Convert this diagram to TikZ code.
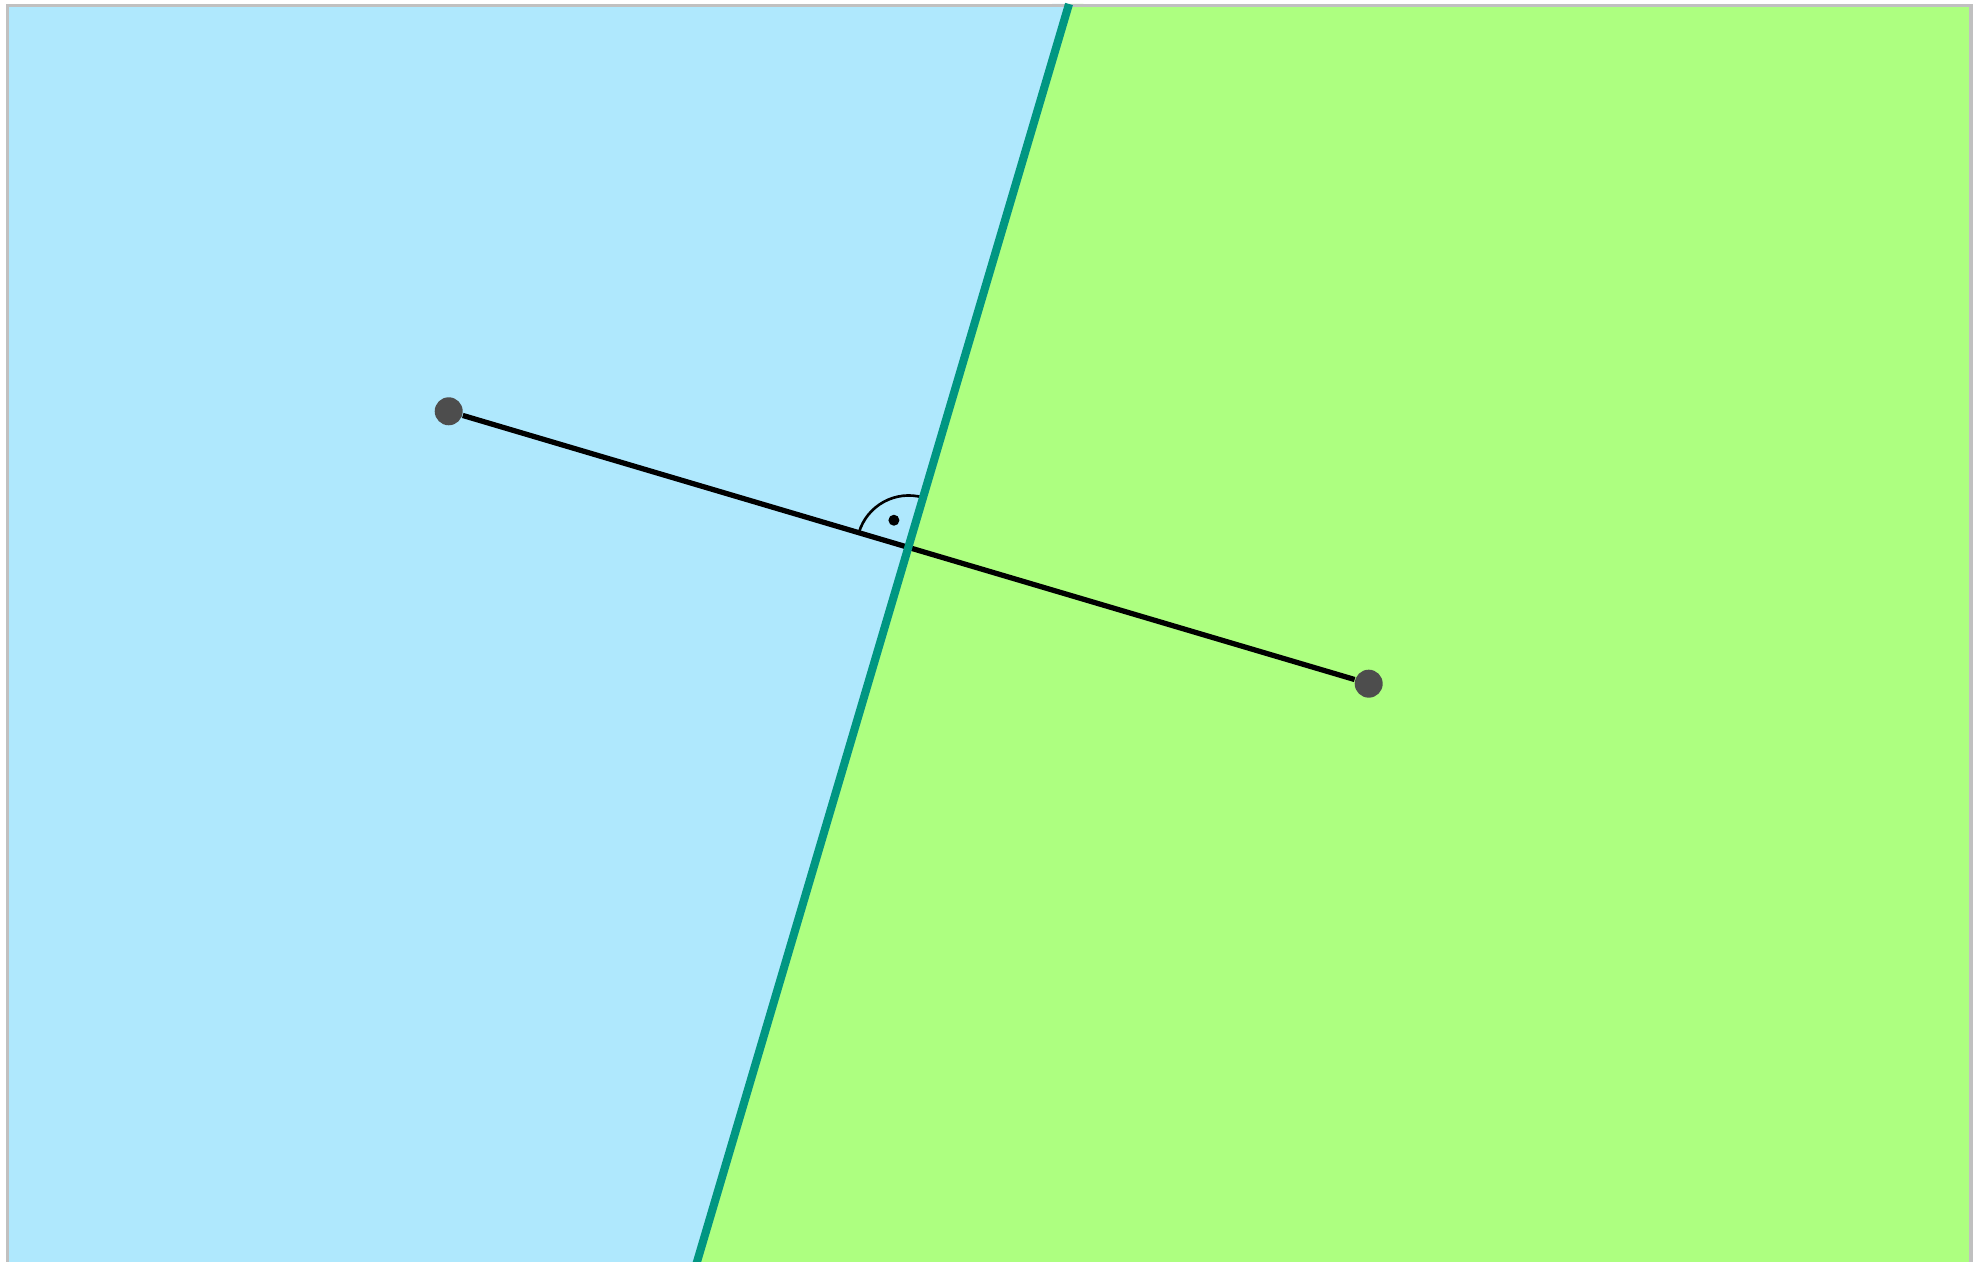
\documentclass[tikz,border=0pt]{standalone}
\usepackage{tikz}
\usetikzlibrary{positioning, calc}
\definecolor{halfblue}{RGB}{175, 232, 253}
\definecolor{halfgreen}{RGB}{173, 255, 128}
\definecolor{bisector}{RGB}{0, 150, 130}
\definecolor{pointgray}{RGB}{77, 77, 77}
\definecolor{framegray}{RGB}{192, 192, 192}

\begin{document}
\begin{tikzpicture}[
    site/.style={circle, fill=pointgray, minimum size=0.28cm, inner sep=0pt},
    seg/.style={black, line width=1.5pt},
    bis/.style={bisector, line width=2.3pt}]
  \useasboundingbox (0,0) rectangle (19.83,12.62);
  \fill[white] (0,0) rectangle (19.83,12.62);
  % corners of the frame and ends of the bisector
  \coordinate (tl) at (0.075,12.565);
  \coordinate (tr) at (19.71,12.565);
  \coordinate (bl) at (0.075,-0.1);
  \coordinate (br) at (19.71,-0.1);
  \coordinate (btop) at (10.69,12.58);
  \coordinate (bbot) at (6.94,-0.1);
  % the two half-planes
  \fill[halfblue] (tl) -- (btop) -- (bbot) -- (bl) -- cycle;
  \fill[halfgreen] (btop) -- (tr) -- (br) -- (bbot) -- cycle;
  \draw[framegray, line width=0.9pt] (bl) -- (tl) -- (tr) -- (br);
  % sites and segment
  \node[site] (A) at (4.487,8.507) {};
  \node[site] (B) at (13.687,5.783) {};
  \draw[seg] (A) -- (B);
  \coordinate (M) at ($(A)!0.5!(B)$);
  % right angle mark
  \draw[line width=0.75pt] ($(M)+(73.57:0.52)$) arc[start angle=73.57, end angle=163.51, radius=0.52];
  \fill ($(M)+(118.5:0.31)$) circle (0.055);
  \draw[bis] (btop) -- (bbot);
\end{tikzpicture}
\end{document}
